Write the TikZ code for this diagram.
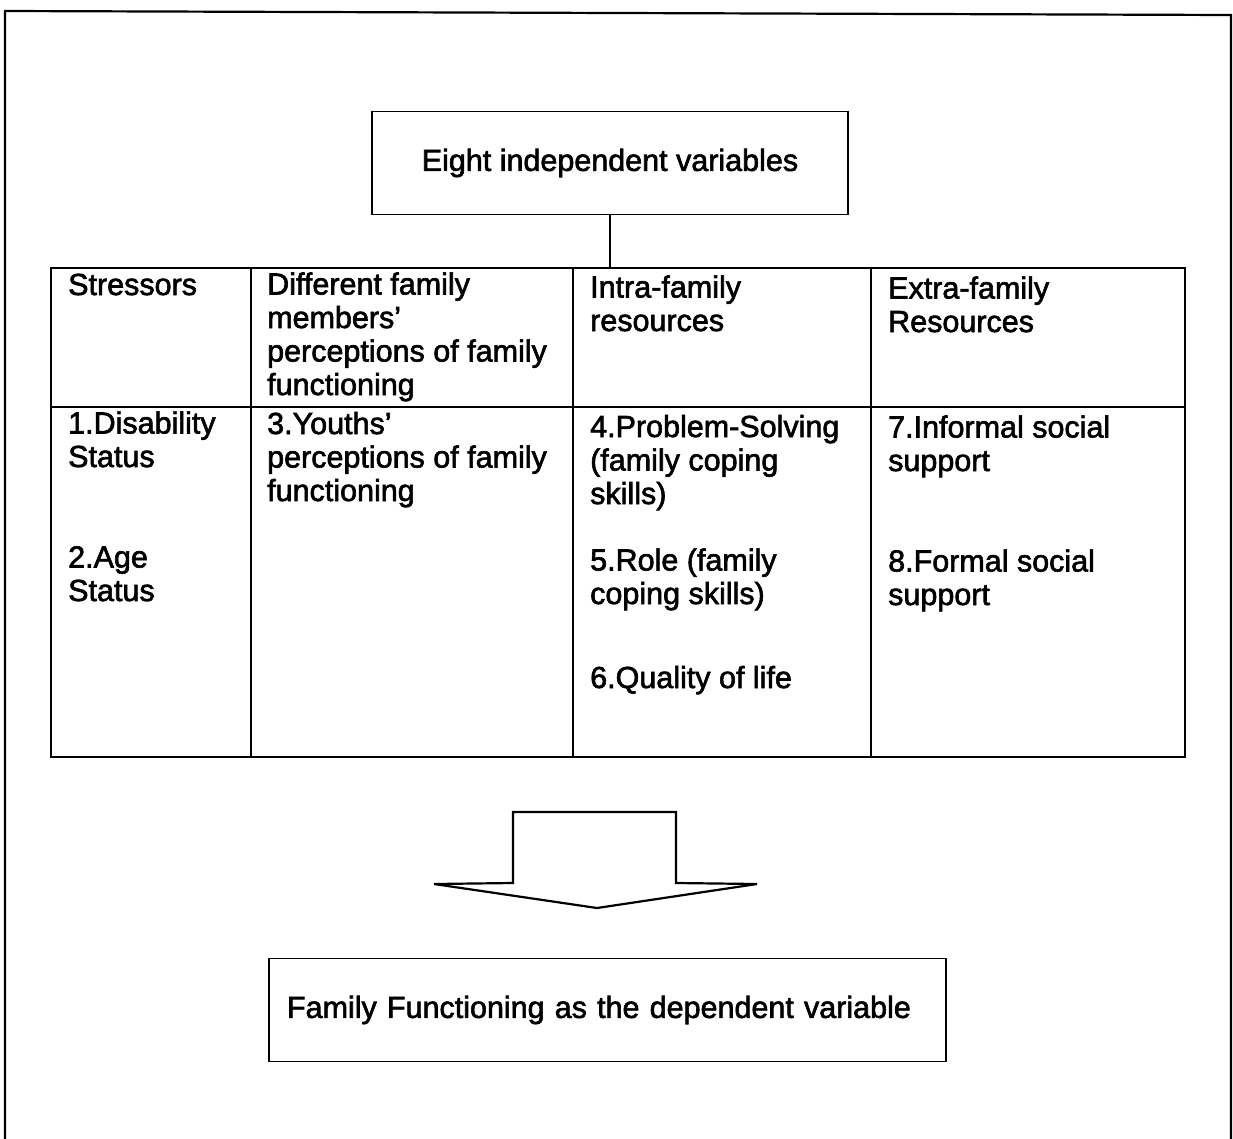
\documentclass[tikz,border=0pt]{standalone}
\usepackage{fontspec}
\setmainfont[FakeBold=2]{Liberation Sans}
\usepackage{tikz}
\usetikzlibrary{positioning}

\begin{document}
\begin{tikzpicture}[x=1pt,y=-1pt,
  varbox/.style={draw,line width=1.8pt,inner ysep=0pt},
  celltext/.style={anchor=base west,align=left,inner sep=0pt},
  every node/.style={font=\fontsize{30.5}{33.5}\selectfont}]
\useasboundingbox (0,0) rectangle (1233,1138);
% outer frame
\draw[line width=2.2pt] (5,1140)--(5,11)--(1231,15)--(1231,1140);
% top and bottom boxes
\node[varbox,minimum width=476pt,minimum height=103pt] (eight) at (610,163) {Eight independent variables};
\node[varbox,minimum height=103pt,text width=641pt,inner xsep=18pt,align=left] (depvar) at (607.5,1010) {Family Functioning as the dependent variable};
\coordinate (tabletop) at (610,268);
\draw[line width=1.8pt] (eight.south)--(tabletop);
% table
\draw[line width=1.8pt] (51,268) rectangle (1185,757);
\draw[line width=1.8pt] (51,407)--(1185,407);
\foreach \cx in {251,573,871}
  \draw[line width=1.8pt] (\cx,268)--(\cx,757);
% header row (nodes sit on the baseline of their last line)
\node[celltext] (stress) at (68,295) {Stressors};
\node[celltext] (percep) at (267,395) {Different family\\members'\\perceptions of family\\functioning};
\node[celltext] (intra) at (590,331) {Intra-family\\resources};
\node[celltext] (extra) at (888,332) {Extra-family\\Resources};
% variables
\node[celltext] (item1) at (68,467) {1.Disability\\Status};
\node[celltext] (item2) at (68,601) {2.Age\\Status};
\node[celltext] (item3) at (267,501) {3.Youths'\\perceptions of family\\functioning};
\node[celltext] (item4) at (590,504) {4.Problem-Solving\\(family coping\\skills)};
\node[celltext] (item5) at (590,604) {5.Role (family\\coping skills)};
\node[celltext] (item6) at (590,688) {6.Quality of life};
\node[celltext] (item7) at (888,471) {7.Informal social\\support};
\node[celltext] (item8) at (888,605) {8.Formal social\\support};
% block arrow
\draw[line width=2.2pt,line join=miter]
(513,812)--(676,812)--(676,883)--(757,884)--(597,908)--(434,884)--(513,883)--cycle;
\end{tikzpicture}
\end{document}
